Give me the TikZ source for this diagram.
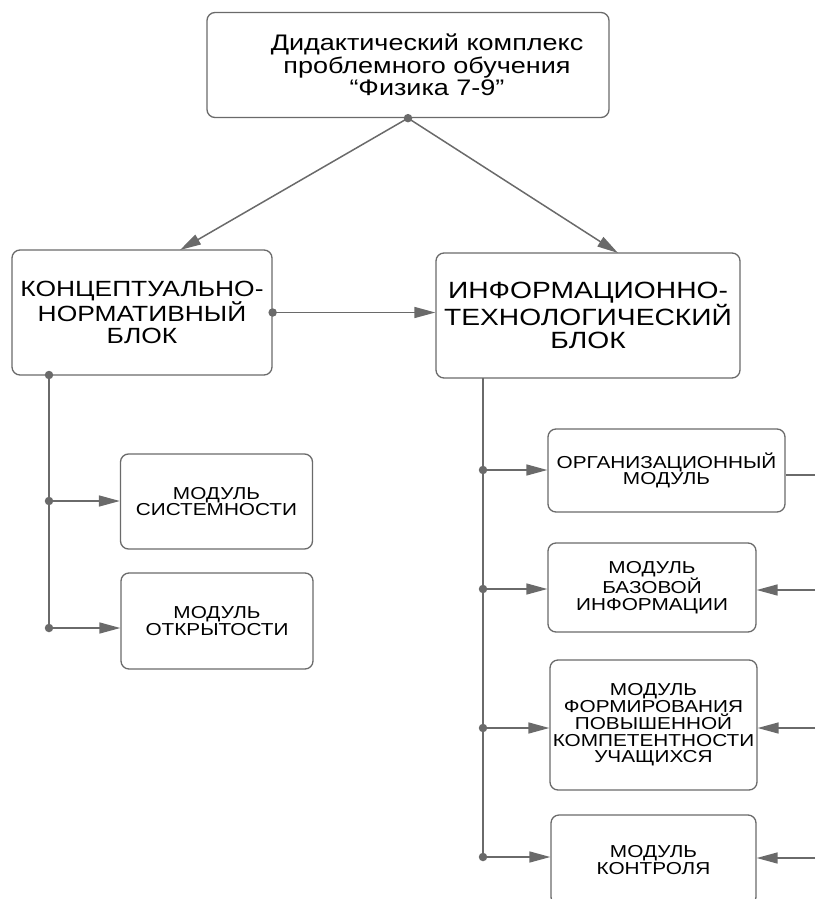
\documentclass[tikz,border=0pt]{standalone}
\usepackage{fontspec}
\setmainfont{Liberation Sans}[FakeStretch=1.2]
\usetikzlibrary{arrows.meta}
\definecolor{linegray}{HTML}{6A6A6A}
\tikzset{
  box/.style={draw=linegray, line width=1.3pt, rounded corners=8pt, align=center, inner sep=0pt},
  link/.style={draw=linegray, line width=1.5pt},
  tip/.style={-{Triangle[length=21pt,width=11pt]}},
  dot/.style={circle, fill=linegray, inner sep=0pt, minimum size=8.5pt},
  bigtext/.style={font=\fontsize{22}{22.5}\selectfont},
  modtext/.style={font=\fontsize{17.3}{16.8}\selectfont}
}
\begin{document}
\begin{tikzpicture}[x=1pt,y=-1pt]
  \clip (0,0) rectangle (815,899);
  % blocks
  \node[box, minimum width=402pt, minimum height=105pt] (top) at (408,65) {};
  \node[align=center, inner sep=0pt, font=\fontsize{22.5}{22.5}\selectfont] (title) at (427,65)
    {Дидактический комплекс\\проблемного обучения\\“Физика 7-9”};
  \node[box, bigtext, minimum width=260pt, minimum height=125pt] (kb) at (142,312.5)
    {КОНЦЕПТУАЛЬНО-\\НОРМАТИВНЫЙ\\БЛОК};
  \node[box, font=\fontsize{23.5}{23.5}\selectfont, minimum width=304pt, minimum height=125pt] (ib) at (588,315.5)
    {ИНФОРМАЦИОННО-\\ТЕХНОЛОГИЧЕСКИЙ\\БЛОК};
  % modules, left
  \node[box, modtext, minimum width=192pt, minimum height=95pt] (m1) at (216.5,501.5) {МОДУЛЬ\\СИСТЕМНОСТИ};
  \node[box, modtext, minimum width=192pt, minimum height=96pt] (m2) at (217,621) {МОДУЛЬ\\ОТКРЫТОСТИ};
  % modules, right
  \node[box, modtext, minimum width=237pt, minimum height=83pt] (o1) at (666.5,470.5) {ОРГАНИЗАЦИОННЫЙ\\МОДУЛЬ};
  \node[box, modtext, minimum width=208pt, minimum height=89pt] (o2) at (652,587.5) {МОДУЛЬ\\БАЗОВОЙ\\ИНФОРМАЦИИ};
  \node[box, modtext, minimum width=207pt, minimum height=130pt] (o3) at (653.5,725) {МОДУЛЬ\\ФОРМИРОВАНИЯ\\ПОВЫШЕННОЙ\\КОМПЕТЕНТНОСТИ\\УЧАЩИХСЯ};
  \node[box, modtext, minimum width=205pt, minimum height=90pt] (o4) at (653.5,860) {МОДУЛЬ\\КОНТРОЛЯ};

  % from the top block
  \node[dot] (tdot) at (top.south) {};
  \coordinate (kin) at (180,250);
  \coordinate (iin) at (618,253);
  \draw[link,tip] (tdot.center) -- (kin);
  \draw[link,tip] (tdot.center) -- (iin);
  \node[dot] (kdot) at (kb.east) {};
  \draw[link,tip] (kdot.center) -- (kdot -| ib.west);

  % left branch
  \node[dot] (kdown) at (49,375) {};
  \node[dot] (k1) at (49,501) {};
  \node[dot] (k2) at (49,628) {};
  \draw[link] (kdown.center) -- (k2.center);
  \draw[link,tip] (k1.center) -- (k1 -| m1.west);
  \draw[link,tip] (k2.center) -- (k2 -| m2.west);

  % right branch
  \coordinate (idown) at (483,378);
  \node[dot] (r1) at (483,470) {};
  \node[dot] (r2) at (483,589) {};
  \node[dot] (r3) at (483,728) {};
  \node[dot] (r4) at (483,857) {};
  \draw[link] (idown) -- (r4.center);
  \foreach \r/\o in {r1/o1, r2/o2, r3/o3, r4/o4}
    \draw[link,tip] (\r.center) -- (\r -| \o.west);

  % lines from the right edge
  \coordinate (e1) at (815,475);
  \coordinate (e2) at (815,590);
  \coordinate (e3) at (815,728);
  \coordinate (e4) at (815,858);
  \draw[link] (e1 -| o1.east) -- (e1);
  \draw[link,tip] (e2) -- (e2 -| o2.east);
  \draw[link,tip] (e3) -- (e3 -| o3.east);
  \draw[link,tip] (e4) -- (e4 -| o4.east);
\end{tikzpicture}
\end{document}
